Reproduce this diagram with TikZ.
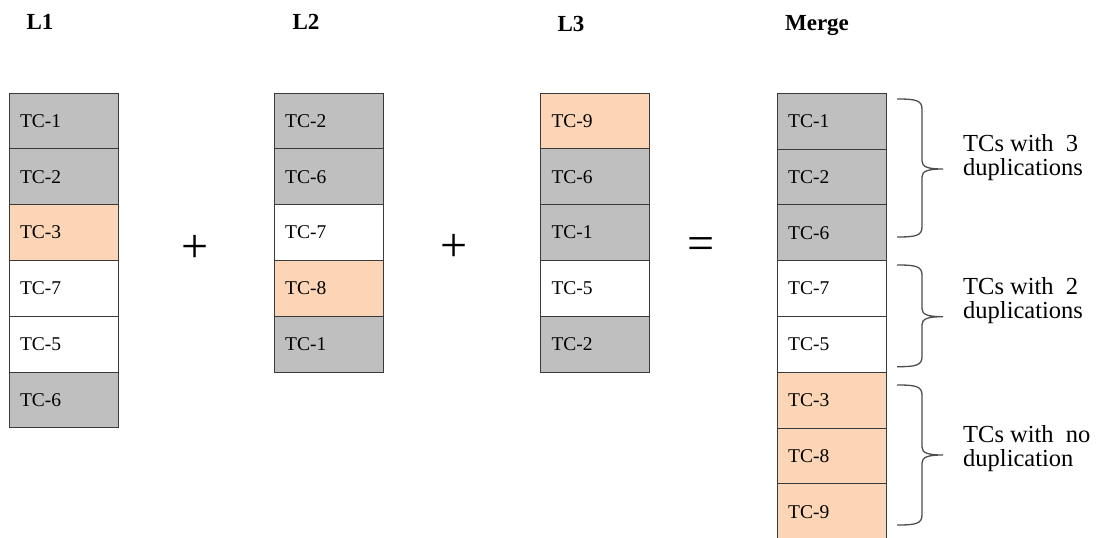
\documentclass[tikz,border=0pt]{standalone}
\usepackage{fontspec}
\setmainfont{Liberation Serif}
\definecolor{cellgrey}{HTML}{BFBFBF}
\definecolor{cellpeach}{HTML}{FBD5B5}
\definecolor{cellline}{HTML}{3A3A3A}
\definecolor{bracecol}{HTML}{4D4D4D}
\tikzset{
  cell/.style={draw=cellline, line width=1pt, minimum width=109.4pt,
    minimum height=55.8pt, inner xsep=11pt, inner ysep=0pt, text width=87.4pt,
    align=left, font=\fontsize{19.5}{20}\selectfont, anchor=north west},
  grey/.style={cell, fill=cellgrey},
  peach/.style={cell, fill=cellpeach},
  plain/.style={cell, fill=white},
  head/.style={font=\bfseries\fontsize{23}{24}\selectfont, anchor=base, inner sep=0pt},
  op/.style={font=\fontsize{48}{48}\selectfont, inner sep=0pt},
  brace/.style={draw=bracecol, line width=1.3pt},
  note/.style={font=\fontsize{24.5}{24}\selectfont, align=left, anchor=north west, inner sep=0pt}
}
% curly brace: #1 top, #2 middle (tip), #3 bottom
\newcommand\curlybrace[3]{%
  \draw[brace] (897,#1) .. controls (915,#1) and (922,#1+1) .. (922,#1+10)
    -- (922,#2-8) .. controls (922,#2-2) and (928,#2) .. (943,#2)
    .. controls (928,#2) and (922,#2+2) .. (922,#2+8)
    -- (922,#3-10) .. controls (922,#3-1) and (915,#3) .. (897,#3);}
\begin{document}
\begin{tikzpicture}[x=1pt, y=-1pt]
  \useasboundingbox (0,0) rectangle (1096,538);

  % column headings
  \node[head] (h1) at (40,29.3) {L1};
  \node[head] (h2) at (306,29.3) {L2};
  \node[head] (h3) at (571,31.5) {L3};
  \node[head] (h4) at (817,30.5) {Merge};

  % list L1
  \foreach \t/\s [count=\i from 0] in {TC-1/grey, TC-2/grey, TC-3/peach, TC-7/plain, TC-5/plain, TC-6/grey}
    \node[\s] (a\i) at (8.5, 92.5+55.8*\i) {\t};
  % list L2
  \foreach \t/\s [count=\i from 0] in {TC-2/grey, TC-6/grey, TC-7/plain, TC-8/peach, TC-1/grey}
    \node[\s] (b\i) at (273.7, 92.5+55.8*\i) {\t};
  % list L3
  \foreach \t/\s [count=\i from 0] in {TC-9/peach, TC-6/grey, TC-1/grey, TC-5/plain, TC-2/grey}
    \node[\s] (c\i) at (540, 92.5+55.8*\i) {\t};
  % merged list
  \foreach \t/\s [count=\i from 0] in {TC-1/grey, TC-2/grey, TC-6/grey, TC-7/plain, TC-5/plain, TC-3/peach, TC-8/peach, TC-9/peach}
    \node[\s] (m\i) at (776.7, 92.7+55.8*\i) {\t};

  % operators
  \node[op] (p1) at (195,249) {+};
  \node[op] (p2) at (454,248) {+};
  \node[op] (eq) at (701,248.5) {=};

  % groups of the merged list
  \curlybrace{99}{169}{237}
  \curlybrace{265}{316.7}{366.7}
  \curlybrace{385}{455}{525}

  \node[note] (n1) at (963,134.3) {TCs with\ \ 3\\duplications};
  \node[note] (n2) at (963,277.3) {TCs with\ \ 2\\duplications};
  \node[note] (n3) at (963,425.3) {TCs with\ \ no\\duplication};
\end{tikzpicture}
\end{document}
